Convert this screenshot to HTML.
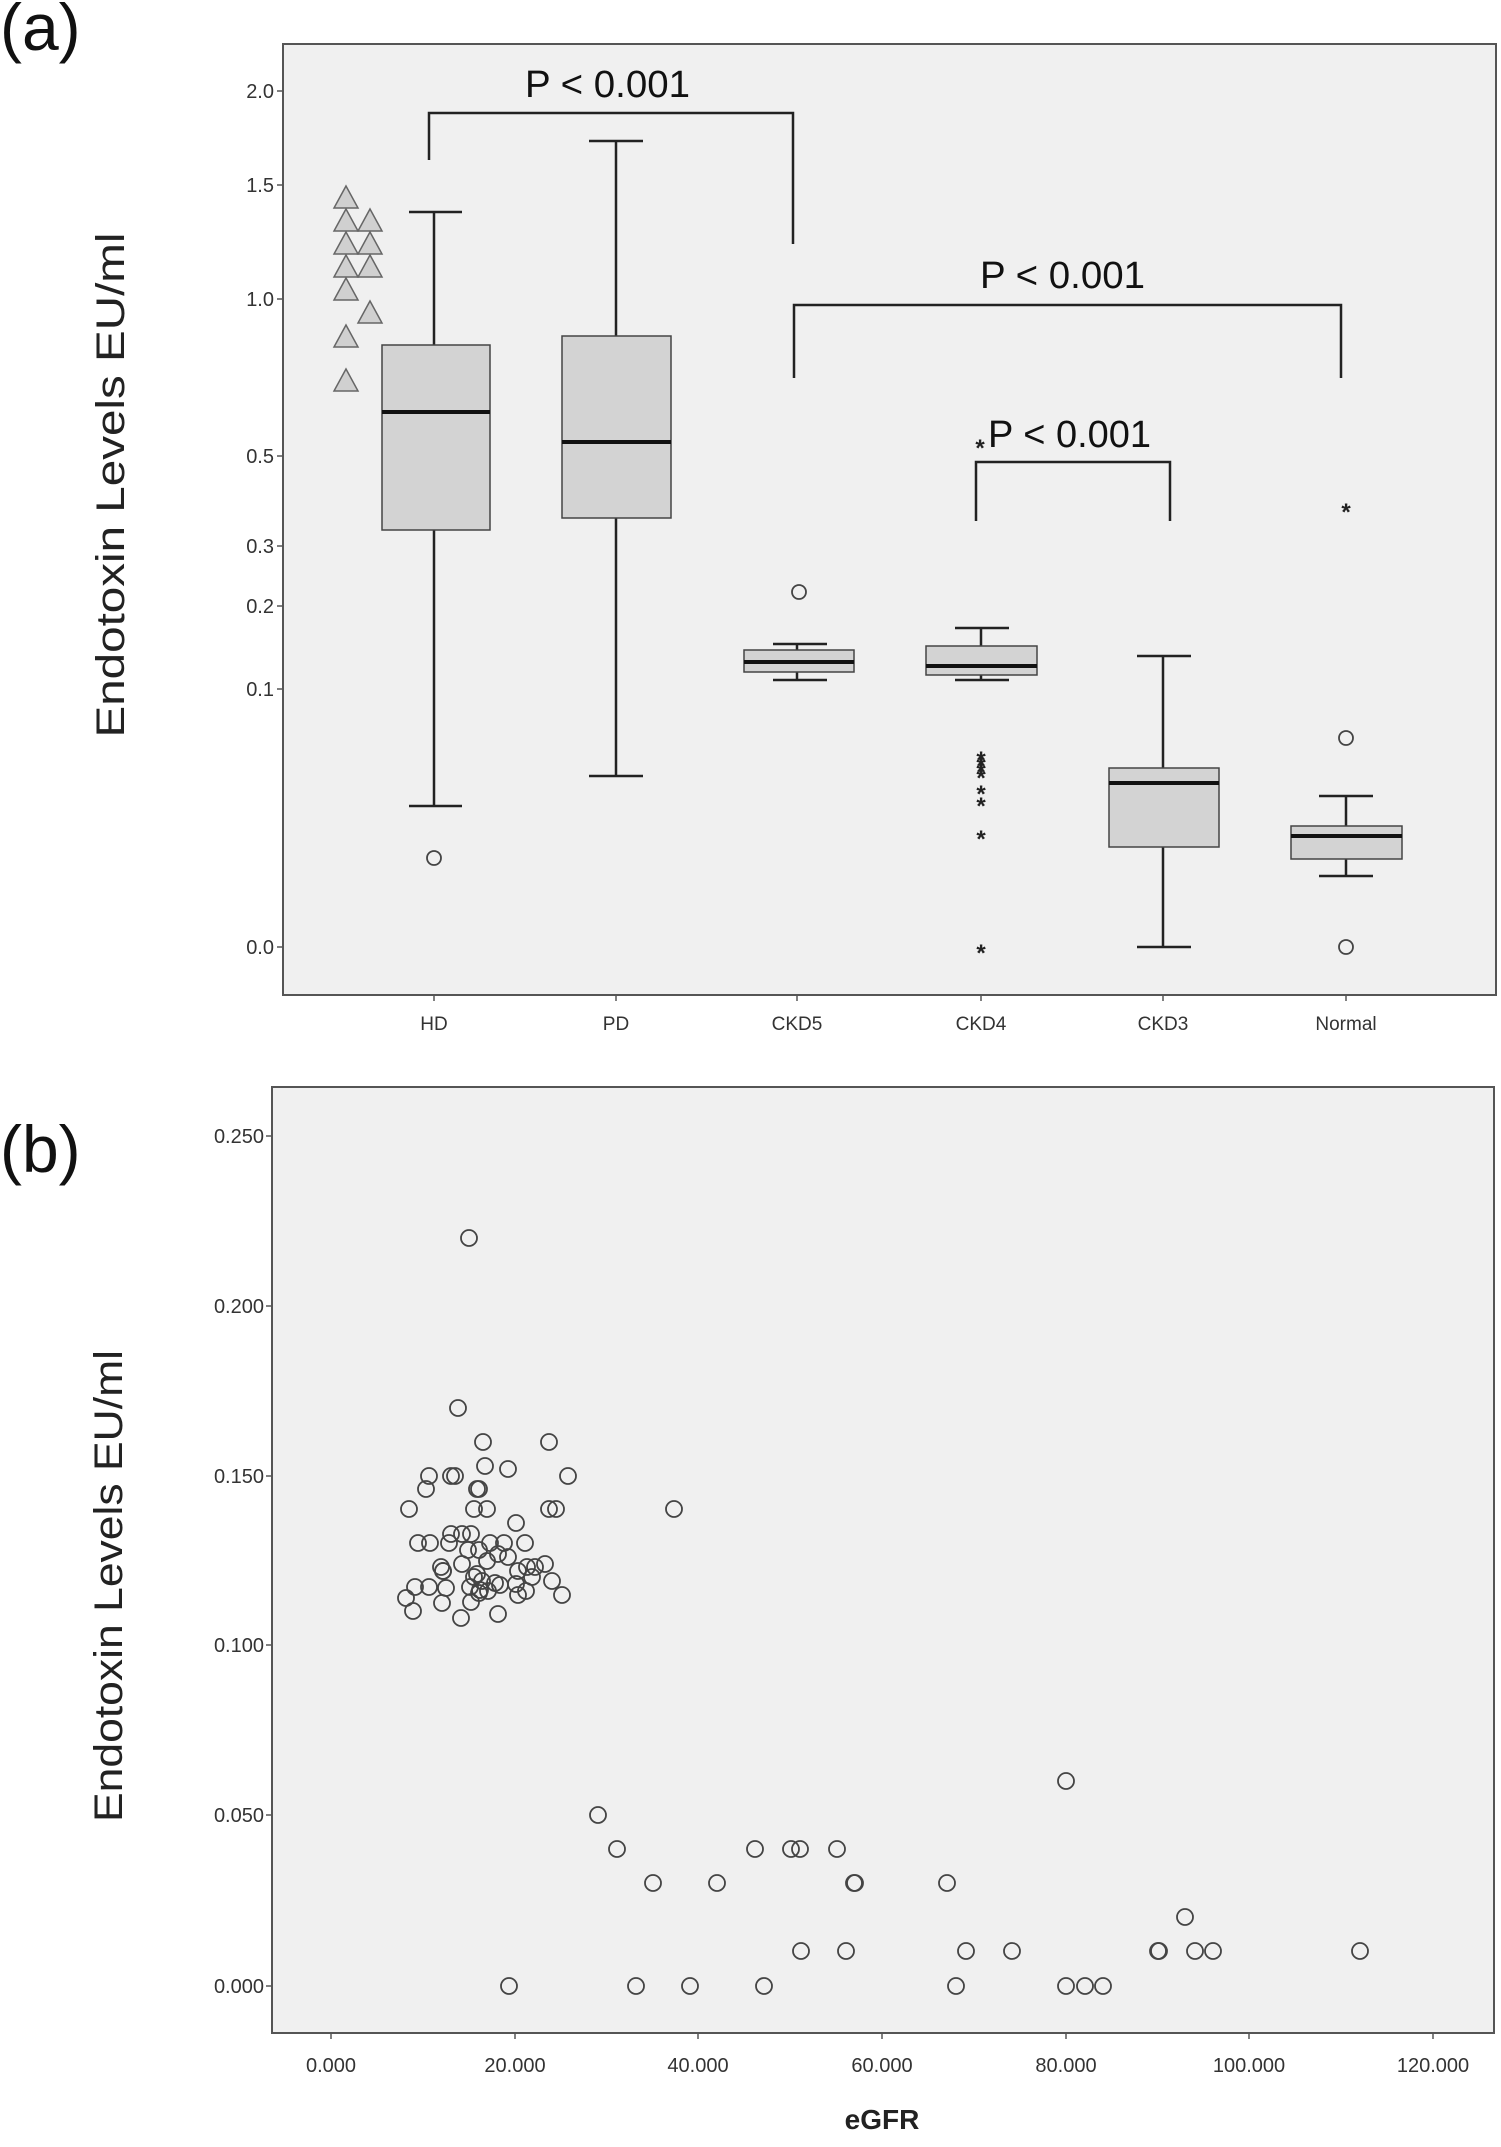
<!DOCTYPE html>
<html><head><meta charset="utf-8"><style>
html,body{margin:0;padding:0;background:#fff;}
svg{display:block;font-family:"Liberation Sans",sans-serif;}
</style></head><body>
<svg width="1501" height="2147" viewBox="0 0 1501 2147" xmlns="http://www.w3.org/2000/svg">
<!-- Panel a -->
<text x="0" y="50" font-size="66" fill="#111">(a)</text>
<rect x="283" y="44" width="1213" height="951" fill="#f0f0f0" stroke="#555" stroke-width="2"/>
<g font-size="20" fill="#333" text-anchor="end">
<text x="274" y="98">2.0</text><text x="274" y="192">1.5</text><text x="274" y="306">1.0</text>
<text x="274" y="463">0.5</text><text x="274" y="553">0.3</text><text x="274" y="613">0.2</text>
<text x="274" y="696">0.1</text><text x="274" y="954">0.0</text>
</g>
<g stroke="#555" stroke-width="1.5">
<line x1="277" y1="91" x2="283" y2="91"/><line x1="277" y1="185" x2="283" y2="185"/><line x1="277" y1="299" x2="283" y2="299"/>
<line x1="277" y1="456" x2="283" y2="456"/><line x1="277" y1="546" x2="283" y2="546"/><line x1="277" y1="606" x2="283" y2="606"/>
<line x1="277" y1="689" x2="283" y2="689"/><line x1="277" y1="947" x2="283" y2="947"/>
<line x1="434" y1="995" x2="434" y2="1001"/><line x1="616" y1="995" x2="616" y2="1001"/><line x1="797" y1="995" x2="797" y2="1001"/>
<line x1="981" y1="995" x2="981" y2="1001"/><line x1="1163" y1="995" x2="1163" y2="1001"/><line x1="1346" y1="995" x2="1346" y2="1001"/>
</g>
<g font-size="19" fill="#333" text-anchor="middle">
<text x="434" y="1030">HD</text><text x="616" y="1030">PD</text><text x="797" y="1030">CKD5</text>
<text x="981" y="1030">CKD4</text><text x="1163" y="1030">CKD3</text><text x="1346" y="1030">Normal</text>
</g>
<text transform="translate(124,485) rotate(-90)" font-size="40" fill="#222" text-anchor="middle" textLength="505" lengthAdjust="spacingAndGlyphs">Endotoxin  Levels  EU/ml</text>
<g stroke="#222" stroke-width="2.5" fill="none">
<!-- whiskers -->
<line x1="434" y1="212" x2="434" y2="806"/><line x1="409" y1="212" x2="462" y2="212"/><line x1="409" y1="806" x2="462" y2="806"/>
<line x1="616" y1="141" x2="616" y2="776"/><line x1="589" y1="141" x2="643" y2="141"/><line x1="589" y1="776" x2="643" y2="776"/>
<line x1="797" y1="644" x2="797" y2="680"/><line x1="773" y1="644" x2="827" y2="644"/><line x1="773" y1="680" x2="827" y2="680"/>
<line x1="981" y1="628" x2="981" y2="680"/><line x1="955" y1="628" x2="1009" y2="628"/><line x1="955" y1="680" x2="1009" y2="680"/>
<line x1="1163" y1="656" x2="1163" y2="947"/><line x1="1137" y1="656" x2="1191" y2="656"/><line x1="1137" y1="947" x2="1191" y2="947"/>
<line x1="1346" y1="796" x2="1346" y2="876"/><line x1="1319" y1="796" x2="1373" y2="796"/><line x1="1319" y1="876" x2="1373" y2="876"/>
</g>
<g fill="#d3d3d3" stroke="#444" stroke-width="1.5">
<rect x="382" y="345" width="108" height="185"/>
<rect x="562" y="336" width="109" height="182"/>
<rect x="744" y="650" width="110" height="22"/>
<rect x="926" y="646" width="111" height="29"/>
<rect x="1109" y="768" width="110" height="79"/>
<rect x="1291" y="826" width="111" height="33"/>
</g>
<g stroke="#111" stroke-width="4">
<line x1="382" y1="412" x2="490" y2="412"/><line x1="562" y1="442" x2="671" y2="442"/>
<line x1="744" y1="662" x2="854" y2="662"/><line x1="926" y1="666" x2="1037" y2="666"/>
<line x1="1109" y1="783" x2="1219" y2="783"/><line x1="1291" y1="836" x2="1402" y2="836"/>
</g>
<g fill="none" stroke="#444" stroke-width="1.8">
<circle cx="434" cy="858" r="7"/><circle cx="799" cy="592" r="7"/>
<circle cx="1346" cy="738" r="7"/><circle cx="1346" cy="947" r="7"/>
</g>
<g fill="#222" font-size="24" text-anchor="middle" font-weight="bold">
<text x="981" y="768">*</text><text x="981" y="774">*</text><text x="981" y="780">*</text><text x="981" y="786">*</text>
<text x="981" y="802">*</text><text x="981" y="814">*</text><text x="981" y="847">*</text><text x="981" y="961">*</text>
<text x="980" y="456">*</text><text x="1346" y="520">*</text>
</g>
<g fill="#d0d0d0" stroke="#666" stroke-width="1.5">
<path d="M346 186 L358 208 L334 208Z"/><path d="M346 209 L358 231 L334 231Z"/><path d="M346 232 L358 254 L334 254Z"/>
<path d="M346 255 L358 277 L334 277Z"/><path d="M346 278 L358 300 L334 300Z"/><path d="M346 325 L358 347 L334 347Z"/>
<path d="M346 369 L358 391 L334 391Z"/>
<path d="M370 209 L382 231 L358 231Z"/><path d="M370 232 L382 254 L358 254Z"/><path d="M370 255 L382 277 L358 277Z"/>
<path d="M370 301 L382 323 L358 323Z"/>
</g>
<g stroke="#222" stroke-width="2.5" fill="none">
<polyline points="429,160 429,113 793,113 793,244"/>
<polyline points="794,378 794,305 1341,305 1341,378"/>
<polyline points="976,521 976,462 1170,462 1170,521"/>
</g>
<g font-size="38" fill="#111">
<text x="525" y="97" textLength="165" lengthAdjust="spacingAndGlyphs">P &lt; 0.001</text>
<text x="980" y="288" textLength="165" lengthAdjust="spacingAndGlyphs">P &lt; 0.001</text>
<text x="988" y="447" textLength="163" lengthAdjust="spacingAndGlyphs">P &lt; 0.001</text>
</g>

<!-- Panel b -->
<text x="0" y="1172" font-size="66" fill="#111">(b)</text>
<rect x="272" y="1087" width="1222" height="946" fill="#f0f0f0" stroke="#555" stroke-width="2"/>
<g font-size="20" fill="#333" text-anchor="end">
<text x="264" y="1143">0.250</text><text x="264" y="1313">0.200</text><text x="264" y="1483">0.150</text>
<text x="264" y="1652">0.100</text><text x="264" y="1822">0.050</text><text x="264" y="1993">0.000</text>
</g>
<g stroke="#555" stroke-width="1.5">
<line x1="266" y1="1136" x2="272" y2="1136"/><line x1="266" y1="1306" x2="272" y2="1306"/><line x1="266" y1="1476" x2="272" y2="1476"/>
<line x1="266" y1="1645" x2="272" y2="1645"/><line x1="266" y1="1815" x2="272" y2="1815"/><line x1="266" y1="1986" x2="272" y2="1986"/>
<line x1="331" y1="2033" x2="331" y2="2039"/><line x1="515" y1="2033" x2="515" y2="2039"/><line x1="698" y1="2033" x2="698" y2="2039"/>
<line x1="882" y1="2033" x2="882" y2="2039"/><line x1="1066" y1="2033" x2="1066" y2="2039"/><line x1="1249" y1="2033" x2="1249" y2="2039"/>
<line x1="1433" y1="2033" x2="1433" y2="2039"/>
</g>
<g font-size="20" fill="#333" text-anchor="middle">
<text x="331" y="2072">0.000</text><text x="515" y="2072">20.000</text><text x="698" y="2072">40.000</text>
<text x="882" y="2072">60.000</text><text x="1066" y="2072">80.000</text><text x="1249" y="2072">100.000</text>
<text x="1433" y="2072">120.000</text>
</g>
<text x="882" y="2129" font-size="28" font-weight="bold" fill="#222" text-anchor="middle">eGFR</text>
<text transform="translate(122,1586) rotate(-90)" font-size="40" fill="#222" text-anchor="middle" textLength="472" lengthAdjust="spacingAndGlyphs">Endotoxin  Levels  EU/ml</text>
<g fill="none" stroke="#444" stroke-width="1.8">
<circle cx="469" cy="1238" r="8"/><circle cx="458" cy="1408" r="8"/><circle cx="483" cy="1442" r="8"/><circle cx="549" cy="1442" r="8"/>
<circle cx="485" cy="1466" r="8"/><circle cx="508" cy="1469" r="8"/><circle cx="568" cy="1476" r="8"/><circle cx="429" cy="1476" r="8"/>
<circle cx="451" cy="1476" r="8"/><circle cx="455" cy="1476" r="8"/><circle cx="426" cy="1489" r="8"/><circle cx="479" cy="1489" r="8"/>
<circle cx="477" cy="1489" r="8"/><circle cx="409" cy="1509" r="8"/><circle cx="474" cy="1509" r="8"/><circle cx="487" cy="1509" r="8"/>
<circle cx="549" cy="1509" r="8"/><circle cx="556" cy="1509" r="8"/><circle cx="674" cy="1509" r="8"/><circle cx="516" cy="1523" r="8"/>
<circle cx="418" cy="1543" r="8"/><circle cx="430" cy="1543" r="8"/><circle cx="449" cy="1543" r="8"/><circle cx="471" cy="1534" r="8"/>
<circle cx="451" cy="1534" r="8"/><circle cx="462" cy="1534" r="8"/><circle cx="490" cy="1543" r="8"/><circle cx="504" cy="1543" r="8"/>
<circle cx="525" cy="1543" r="8"/><circle cx="479" cy="1550" r="8"/><circle cx="498" cy="1554" r="8"/><circle cx="508" cy="1557" r="8"/>
<circle cx="462" cy="1564" r="8"/><circle cx="487" cy="1561" r="8"/><circle cx="441" cy="1567" r="8"/><circle cx="443" cy="1571" r="8"/>
<circle cx="518" cy="1571" r="8"/><circle cx="527" cy="1567" r="8"/><circle cx="545" cy="1564" r="8"/><circle cx="535" cy="1567" r="8"/>
<circle cx="477" cy="1574" r="8"/><circle cx="495" cy="1583" r="8"/><circle cx="415" cy="1587" r="8"/><circle cx="429" cy="1587" r="8"/>
<circle cx="470" cy="1587" r="8"/><circle cx="480" cy="1590" r="8"/><circle cx="500" cy="1585" r="8"/><circle cx="516" cy="1584" r="8"/>
<circle cx="552" cy="1581" r="8"/><circle cx="526" cy="1591" r="8"/><circle cx="406" cy="1598" r="8"/><circle cx="479" cy="1593" r="8"/>
<circle cx="518" cy="1595" r="8"/><circle cx="562" cy="1595" r="8"/><circle cx="442" cy="1603" r="8"/><circle cx="471" cy="1602" r="8"/>
<circle cx="413" cy="1611" r="8"/><circle cx="461" cy="1618" r="8"/><circle cx="498" cy="1614" r="8"/><circle cx="443" cy="1571" r="8"/>
<circle cx="468" cy="1550" r="8"/><circle cx="482" cy="1581" r="8"/><circle cx="474" cy="1577" r="8"/><circle cx="488" cy="1591" r="8"/>
<circle cx="532" cy="1577" r="8"/><circle cx="446" cy="1588" r="8"/>
<circle cx="598" cy="1815" r="8"/><circle cx="617" cy="1849" r="8"/><circle cx="755" cy="1849" r="8"/><circle cx="791" cy="1849" r="8"/>
<circle cx="800" cy="1849" r="8"/><circle cx="837" cy="1849" r="8"/><circle cx="653" cy="1883" r="8"/><circle cx="717" cy="1883" r="8"/>
<circle cx="854" cy="1883" r="8"/><circle cx="855" cy="1883" r="8"/><circle cx="947" cy="1883" r="8"/><circle cx="1066" cy="1781" r="8"/>
<circle cx="1185" cy="1917" r="8"/><circle cx="801" cy="1951" r="8"/><circle cx="846" cy="1951" r="8"/><circle cx="966" cy="1951" r="8"/>
<circle cx="1012" cy="1951" r="8"/><circle cx="1158" cy="1951" r="8"/><circle cx="1159" cy="1951" r="8"/><circle cx="1195" cy="1951" r="8"/>
<circle cx="1213" cy="1951" r="8"/><circle cx="1360" cy="1951" r="8"/><circle cx="509" cy="1986" r="8"/><circle cx="636" cy="1986" r="8"/>
<circle cx="690" cy="1986" r="8"/><circle cx="764" cy="1986" r="8"/><circle cx="956" cy="1986" r="8"/><circle cx="1066" cy="1986" r="8"/>
<circle cx="1085" cy="1986" r="8"/><circle cx="1103" cy="1986" r="8"/>
</g>
</svg>
</body></html>
